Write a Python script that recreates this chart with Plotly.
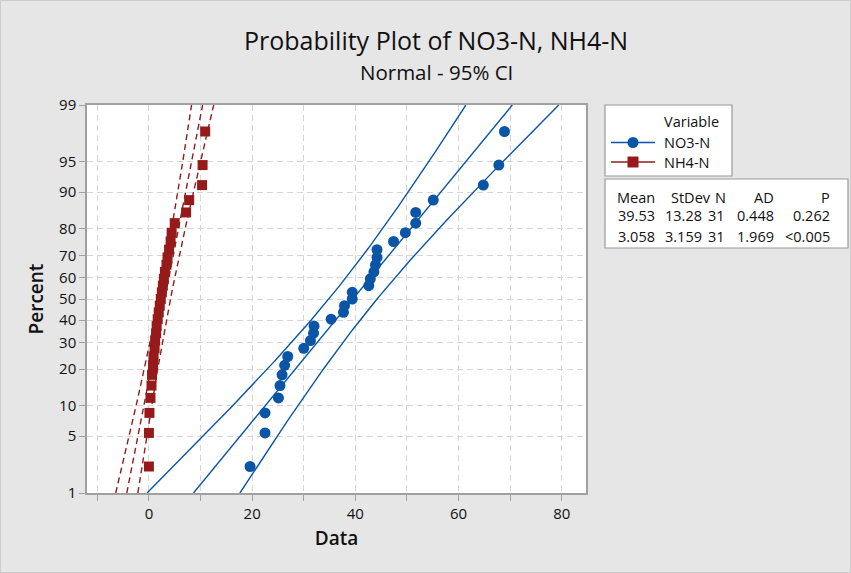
import plotly.graph_objects as go
from statistics import NormalDist
import numpy as np

# ---------------- data ----------------
no3_values = [19.6, 22.5, 22.5, 25.1, 25.4, 25.8, 26.3, 26.9, 30.0, 31.3, 31.9,
              32.0, 35.3, 37.7, 37.9, 39.4, 39.4, 42.6, 42.9, 43.6, 43.9, 44.2,
              44.2, 47.4, 49.7, 51.7, 51.7, 55.1, 64.8, 67.8, 68.9]
nh4_values = [0.0, 0.0, 0.1, 0.3, 0.5, 0.6, 0.8, 0.9, 1.1, 1.2, 1.4, 1.5, 1.7,
              1.9, 2.1, 2.3, 2.5, 2.7, 2.9, 3.1, 3.4, 3.6, 3.9, 4.2, 4.4, 5.0,
              7.2, 7.8, 10.3, 10.4, 10.9]
series_names = ["NO3-N", "NH4-N"]
stat_mean = [39.53, 3.058]
stat_stdev = [13.28, 3.159]
stat_n = [31, 31]
mean_text = ["39.53", "3.058"]
stdev_text = ["13.28", "3.159"]
ad_text = ["0.448", "1.969"]
p_text = ["0.262", "<0.005"]
y_tick_percents = [1, 5, 10, 20, 30, 40, 50, 60, 70, 80, 90, 95, 99]
x_tick_values = [-10, 0, 10, 20, 30, 40, 50, 60, 70, 80]

colors = ["#0a55a6", "#961a1a"]
nd = NormalDist()

W, H = 851, 573
L, R, T, B = 87, 586, 105, 493  # plot area in pixels


def px(x):
    return (x - L) / (R - L)


def py(y):
    return (B - y) / (B - T)


z_lo = nd.inv_cdf(0.01)
z_hi = nd.inv_cdf(0.99)

fig = go.Figure()

# fitted lines and 95% confidence bands
zz = np.linspace(z_lo, z_hi, 200)
for k in range(2):
    mu, sd, n = stat_mean[k], stat_stdev[k], stat_n[k]
    se = sd * np.sqrt(1.0 / n + zz ** 2 / (2.0 * n))
    fit = mu + zz * sd
    dash = "solid" if k == 0 else "6px,4px"
    for xs in (fit - 1.96 * se, fit, fit + 1.96 * se):
        fig.add_trace(go.Scatter(x=xs, y=zz, mode="lines",
                                 line=dict(color=colors[k], width=1.4, dash=dash),
                                 hoverinfo="skip", showlegend=False))

# points (median ranks)
for k, vals in enumerate([no3_values, nh4_values]):
    n = len(vals)
    srt = sorted(vals)
    zs = [nd.inv_cdf((i + 1 - 0.3) / (n + 0.4)) for i in range(n)]
    fig.add_trace(go.Scatter(x=srt, y=zs, mode="markers", name=series_names[k],
                             marker=dict(symbol="circle" if k == 0 else "square",
                                         size=11 if k == 0 else 10,
                                         color=colors[k]),
                             showlegend=False))

font_family = "Open Sans, Noto Sans, sans-serif"
axis_common = dict(showline=True, linecolor="#a0a0a0", linewidth=1.5, mirror=True,
                   showgrid=True, gridcolor="#d6d6d6", griddash="6px,4px", gridwidth=1.2,
                   ticks="outside", ticklen=6, tickcolor="#a0a0a0", zeroline=False,
                   tickfont=dict(family=font_family, size=15, color="#111"))

fig.update_layout(
    width=W, height=H,
    margin=dict(l=L, r=W - R, t=T, b=H - B),
    paper_bgcolor="#e6e6e6", plot_bgcolor="white",
    showlegend=False,
    xaxis=dict(range=[-12.0, 84.7], tickvals=x_tick_values,
               ticktext=[str(v) if v % 20 == 0 else "" for v in x_tick_values],
               title=dict(text="Data", font=dict(family=font_family, size=19, color="#111", weight=600),
                          standoff=10),
               **axis_common),
    yaxis=dict(range=[z_lo, z_hi], tickvals=[nd.inv_cdf(p / 100) for p in y_tick_percents],
               ticktext=[str(p) for p in y_tick_percents],
               title=dict(text="Percent", font=dict(family=font_family, size=19, color="#111", weight=600),
                          standoff=10),
               **axis_common),
)

ann = []
shapes = []
# titles
ann.append(dict(x=px(436), y=py(40), xref="paper", yref="paper", text="Probability Plot of NO3-N, NH4-N",
                showarrow=False, xanchor="center", yanchor="middle",
                font=dict(family=font_family, size=25, color="#111")))
ann.append(dict(x=px(436), y=py(72), xref="paper", yref="paper", text="Normal - 95% CI",
                showarrow=False, xanchor="center", yanchor="middle",
                font=dict(family=font_family, size=20.5, color="#111")))

# figure border
shapes.append(dict(type="rect", xref="paper", yref="paper", x0=px(0.5), x1=px(W - 0.5),
                   y0=py(0.5), y1=py(H - 0.5), line=dict(color="#cccccc", width=1)))

# legend box
shapes.append(dict(type="rect", xref="paper", yref="paper", x0=px(605), x1=px(732),
                   y0=py(105), y1=py(176), fillcolor="white", line=dict(color="#9a9a9a", width=1.2)))
ann.append(dict(x=px(662), y=py(122), xref="paper", yref="paper", text="Variable", showarrow=False,
                xanchor="left", yanchor="middle", font=dict(family=font_family, size=14.5, color="#111")))
for k, yy in enumerate([142.5, 162]):
    shapes.append(dict(type="line", xref="paper", yref="paper", x0=px(611), x1=px(655),
                       y0=py(yy), y1=py(yy), line=dict(color=colors[k], width=1.5)))
    r = 5.5
    shapes.append(dict(type="circle" if k == 0 else "rect", xref="paper", yref="paper",
                       x0=px(633 - r), x1=px(633 + r), y0=py(yy + r), y1=py(yy - r),
                       fillcolor=colors[k], line=dict(color=colors[k], width=0)))
    ann.append(dict(x=px(662), y=py(yy), xref="paper", yref="paper", text=series_names[k],
                    showarrow=False, xanchor="left", yanchor="middle",
                    font=dict(family=font_family, size=14.5, color="#111")))

# stats table box
shapes.append(dict(type="rect", xref="paper", yref="paper", x0=px(605), x1=px(848),
                   y0=py(179), y1=py(248), fillcolor="white", line=dict(color="#9a9a9a", width=1.2)))
headers = ["Mean", "StDev", "N", "AD", "P"]
header_right = [657, 713, 728, 776, 832]
value_right = [657, 704, 727, 776, 832]
for c in range(5):
    ann.append(dict(x=px(header_right[c]), y=py(197), xref="paper", yref="paper", text=headers[c],
                    showarrow=False, xanchor="right", yanchor="middle",
                    font=dict(family=font_family, size=14.5, color="#111")))
for k, yy in enumerate([215.5, 236.5]):
    row = [mean_text[k], stdev_text[k], str(stat_n[k]), ad_text[k], p_text[k]]
    for c in range(5):
        ann.append(dict(x=px(value_right[c]), y=py(yy), xref="paper", yref="paper", text=row[c],
                        showarrow=False, xanchor="right", yanchor="middle",
                        font=dict(family=font_family, size=14.5, color="#111")))

fig.update_layout(annotations=ann, shapes=shapes)
fig.write_html("out.html", config={"displayModeBar": False},
               post_script="document.body.style.margin='0px';")
